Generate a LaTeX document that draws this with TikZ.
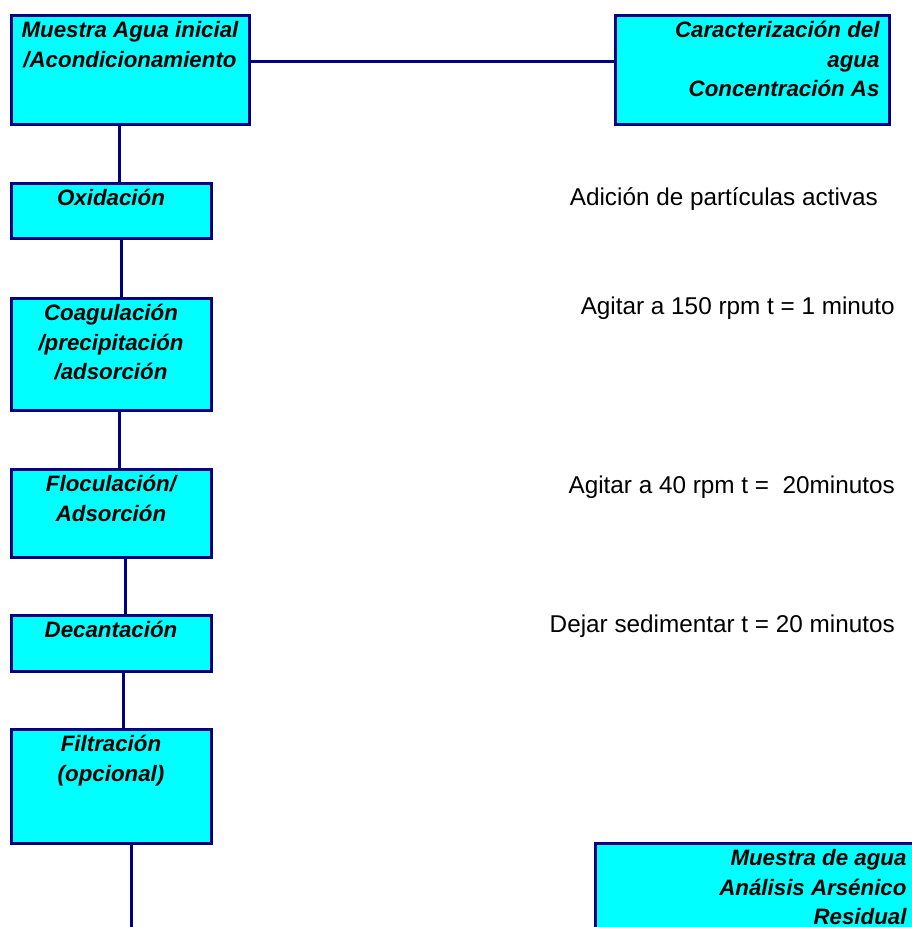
\documentclass[tikz,border=0pt]{standalone}
\usepackage{fontspec}
\setmainfont{Liberation Sans}
\definecolor{azul}{HTML}{000080}
\definecolor{celeste}{HTML}{00FFFF}
\newcommand{\cajatexto}[4]{\parbox[t][#2][t]{#1}{#3\rule{0pt}{22pt}#4}}
\newcommand{\derecha}{\raggedleft\rightskip=9.5pt\relax}

\begin{document}
\begin{tikzpicture}[x=1pt,y=-1pt,
  caja/.style={draw=azul,fill=celeste,line width=3pt,inner sep=0pt,
  anchor=north west,font={\fontsize{22.3}{29.5}\selectfont\bfseries\itshape}},
  nota/.style={font={\fontsize{24.3}{29}\selectfont},anchor=base east,inner sep=0pt},
  linea/.style={draw=azul,line width=3pt}]

  \useasboundingbox (0,0) rectangle (912,927);

  % Cajas del proceso
  \node[caja] (muestra) at (9.5,14) {\cajatexto{238pt}{108.5pt}{\centering}{Muestra Agua inicial\\/Acondicionamiento}};
  \node[caja] (caract) at (613.5,14) {\cajatexto{274pt}{109pt}{\derecha}{Caracterización del\\agua\\Concentración As}};
  \node[caja] (oxid) at (9.5,182) {\cajatexto{200pt}{55pt}{\centering}{Oxidación}};
  \node[caja] (coag) at (9.5,297) {\cajatexto{200pt}{112pt}{\centering}{Coagulación\\/precipitación\\/adsorción}};
  \node[caja] (floc) at (9.5,468) {\cajatexto{200pt}{88pt}{\centering}{Floculación/\\Adsorción}};
  \node[caja] (decant) at (9.5,614) {\cajatexto{200pt}{56pt}{\centering}{Decantación}};
  \node[caja] (filtr) at (9.5,728) {\cajatexto{200pt}{113.5pt}{\centering}{Filtración\\(opcional)}};
  \node[caja] (residual) at (594,842) {\cajatexto{320.5pt}{88pt}{\derecha}{Muestra de agua\\Análisis Arsénico\\Residual}};

  % Notas a la derecha
  \node[nota] (adicion) at (878,205) {Adición de partículas activas};
  \node[nota] (agitarA) at (895,314) {Agitar a 150 rpm t = 1 minuto};
  \node[nota] (agitarB) at (895,493) {Agitar a 40 rpm t =\ \ 20minutos};
  \node[nota] (dejar) at (895,632) {Dejar sedimentar t = 20 minutos};

  \coordinate (fin) at (131.5,930);

  \draw[linea] ([yshift=8pt]muestra.east) -- ([yshift=8pt]muestra.east -| caract.west);
  \draw[linea] ([xshift=-11pt]muestra.south) -- ([xshift=-11pt]muestra.south |- oxid.north);
  \draw[linea] ([xshift=10pt]oxid.south) -- ([xshift=10pt]oxid.south |- coag.north);
  \draw[linea] ([xshift=8pt]coag.south) -- ([xshift=8pt]coag.south |- floc.north);
  \draw[linea] ([xshift=14pt]floc.south) -- ([xshift=14pt]floc.south |- decant.north);
  \draw[linea] ([xshift=12pt]decant.south) -- ([xshift=12pt]decant.south |- filtr.north);
  \draw[linea] (filtr.south -| fin) -- (fin);
\end{tikzpicture}
\end{document}
